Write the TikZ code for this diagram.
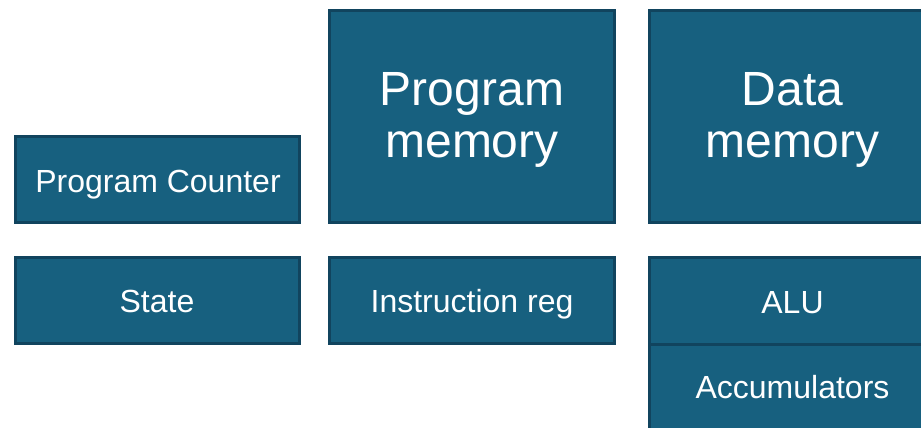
\documentclass[tikz,border=0pt]{standalone}
\usepackage{fontspec}
\setmainfont{Liberation Sans}
\definecolor{blockfill}{RGB}{23,96,127}
\definecolor{blockedge}{RGB}{17,68,94}
\begin{document}
\begin{tikzpicture}[x=1pt,y=-1pt,
  block/.style={draw=blockedge, fill=blockfill, line width=3pt},
  label/.style={text=white, anchor=base, inner sep=0pt},
  small/.style={label, font=\fontsize{32}{36}\selectfont},
  big/.style={label, font=\fontsize{48}{52}\selectfont}]
\useasboundingbox (0,0) rectangle (921,428);
\begin{scope}
\clip (0,0) rectangle (921,428);
% left column
\draw[block] (15.5,136.5) rectangle (299.5,222.5);
\node[small] (pc) at (158,192) {Program Counter};
\draw[block] (15.5,257.5) rectangle (299.5,343.5);
\node[small] (state) at (157,312) {State};
% middle column
\draw[block] (329.5,10.5) rectangle (614.5,222.5);
\node[big] (pmem1) at (472,105) {Program};
\node[big] (pmem2) at (472,157) {memory};
\draw[block] (329.5,257.5) rectangle (614.5,343.5);
\node[small] (ireg) at (472,312) {Instruction reg};
% right column, running off the right edge
\draw[block] (649.5,10.5) rectangle (935.5,222.5);
\node[big] (dmem1) at (792.5,105) {Data};
\node[big] (dmem2) at (792.5,157) {memory};
\draw[block] (649.5,257.5) rectangle (935.5,344.5);
\node[small] (alu) at (792.5,313) {ALU};
\draw[block] (649.5,344.5) rectangle (935.5,440);
\node[small] (acc) at (792.5,398) {Accumulators};
\end{scope}
\end{tikzpicture}
\end{document}
